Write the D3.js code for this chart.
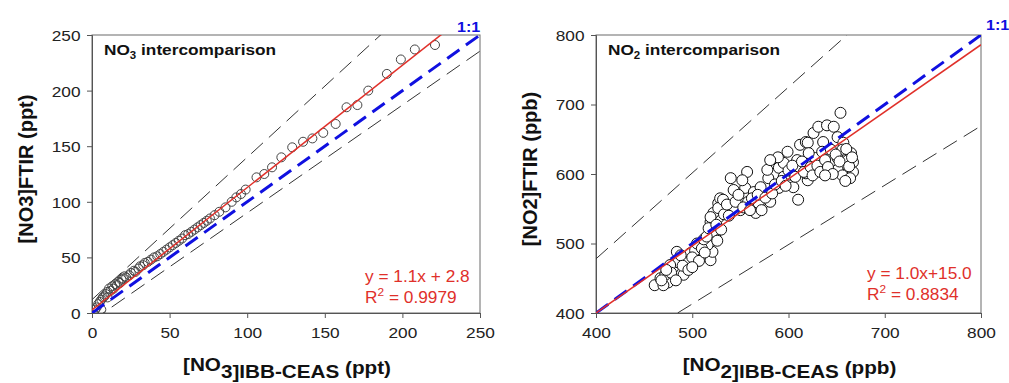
<!DOCTYPE html>
<html>
<head>
<meta charset="utf-8">
<script src="https://cdn.jsdelivr.net/npm/d3@7"></script>
<style>
  body { margin: 0; background: #fff; }
  svg { display: block; font-family: "Liberation Sans", Arial, sans-serif; }
</style>
</head>
<body>
<svg id="chart" width="1009" height="383"></svg>
<script>
// ---- data ----
const no3Ticks = [0, 50, 100, 150, 200, 250];
const no2Ticks = [400, 500, 600, 700, 800];

// NO3: [IBB-CEAS, FTIR] ppt
const no3Points = [
  [2,3],[3,5],[4,8],[5,10],[6,3],[6,12],[7,14],[8,15],[9,17],[10,19],[10,14],[11,22],
  [12,20],[13,24],[14,22],[15,26],[16,25],[17,28],[18,27],[19,30],[20,31],[21,33],
  [22,32],[24,34],[25,36],[27,38],[28,37],[30,40],[31,42],[33,43],[34,45],[36,46],
  [38,48],[40,50],[42,51],[44,53],[46,55],[48,57],[50,59],[52,61],[54,63],[56,65],
  [58,67],[60,70],[62,71],[64,73],[66,75],[68,77],[70,79],[72,81],[74,83],[76,85],
  [79,88],[82,91],[86,95],[90,100],[93,104],[96,107],[99,111],[106,122],[111,125],
  [116,131],[122,140],[129,149],[136,154],[142,157],[149,162],[157,170],[164,185],
  [171,187],[178,200],[190,215],[199,228],[208,237],[221,241]
];
// NO2: [IBB-CEAS, FTIR] ppb
const no2Points = [
  [461,440],[467,450],[475,444],[472,455],[480,465],[491,455],[485,473],[495,473],
  [498,486],[503,490],[519,476],[521,488],[516,498],[524,509],[521,517],[519,531],
  [527,537],[522,544],[531,551],[527,558],[550,548],[566,544],[574,558],[581,560],
  [484,488],[488,483],[477,469],[519,538],[529,565],[527,551],[543,577],[555,580],
  [564,574],[550,558],[569,558],[579,594],[578,606],[590,609],[595,616],[599,632],
  [609,620],[612,642],[618,646],[626,659],[631,668],[640,670],[647,668],[636,646],
  [651,653],[657,645],[656,635],[665,630],[667,617],[657,613],[661,601],[667,603],
  [654,688],[620,591],[618,601],[644,617],[628,623],[635,632],[589,624],[571,581],
  [581,620],[595,596],[602,599],[605,581],[590,580],[557,603],[552,591],[540,594],
  [532,563],[543,548],[558,560],[651,623],[651,606],[644,635],[620,645],[621,630],
  [612,609],[656,598],[662,620],[610,563],
  [470,440],[478,458],[490,468],[500,480],[505,500],[510,493],[507,475],[513,487],
  [512,506],[496,462],[483,447],[473,462],[468,447],[500,466],
  [515,510],[517,522],[525,527],[530,520],[533,542],[536,556],[538,540],[526,504],
  [545,560],[548,570],[553,552],[560,548],[562,565],[568,570],[572,548],[576,566],
  [583,572],[586,585],[593,590],[597,583],[600,605],[604,612],[607,596],[614,618],
  [616,603],[623,610],[625,598],[630,612],[633,603],[638,620],[641,610],[646,600],
  [649,628],[653,618],[660,636],[663,611],[666,624],[664,594],[659,590],[638,598]
];

// lines as [slope, intercept]
const no3Fit = [1.1, 2.8];
const no3Upper = [1.28, 12];
const no3Lower = [0.97, -7];
const no2Fit = [0.965, 14];
const no2Upper = [1.235, -16];
const no2Lower = [0.854, -14];

const SX = 1.15; // the source image is a little wider than tall, text is stretched

const svg = d3.select("#chart");
svg.append("rect").attr("width", 1009).attr("height", 383).attr("fill", "#fff");

// text placed at (x,y) and stretched horizontally
function label(parent, x, y, sx) {
  return parent.append("g")
    .attr("transform", "translate(" + x + "," + y + ") scale(" + sx + ",1)")
    .append("text");
}

function drawPanel(p) {
  const x = d3.scaleLinear().domain(p.domain).range([p.left, p.right]);
  const y = d3.scaleLinear().domain(p.domain).range([p.bottom, p.top]);
  const g = svg.append("g");

  g.append("clipPath").attr("id", p.id + "clip")
    .append("rect")
    .attr("x", p.left).attr("y", p.top)
    .attr("width", p.right - p.left).attr("height", p.bottom - p.top);

  // frame
  g.append("rect")
    .attr("x", p.left).attr("y", p.top)
    .attr("width", p.right - p.left).attr("height", p.bottom - p.top)
    .attr("fill", "none").attr("stroke", "#6a6a6a").attr("stroke-width", 1);

  const xAxis = g.append("g")
    .attr("transform", "translate(0," + p.bottom + ")")
    .call(d3.axisBottom(x).tickValues(p.ticks).tickSize(5).tickPadding(9));
  const yAxis = g.append("g")
    .attr("transform", "translate(" + p.left + ",0)")
    .call(d3.axisLeft(y).tickValues(p.ticks).tickSize(5).tickPadding(5));
  [xAxis, yAxis].forEach(a => {
    a.select(".domain").attr("stroke", "#555");
    a.selectAll(".tick line").attr("stroke", "#555");
    a.selectAll("text").attr("font-size", 15).attr("fill", "#222")
      .attr("font-family", "Liberation Sans, Arial, sans-serif")
      .attr("transform", "scale(" + SX + ",1)");
  });
  yAxis.selectAll(".tick text").attr("dy", "0.36em");

  const plot = g.append("g").attr("clip-path", "url(#" + p.id + "clip)");
  const d0 = p.domain[0], d1 = p.domain[1];
  const lineOf = (c) => [[d0, c[0] * d0 + c[1]], [d1, c[0] * d1 + c[1]]];
  const line = d3.line().x(d => x(d[0])).y(d => y(d[1]));

  [p.upper, p.lower].forEach(c => {
    plot.append("path").datum(lineOf(c))
      .attr("d", line).attr("fill", "none")
      .attr("stroke", "#333").attr("stroke-width", 1)
      .attr("stroke-dasharray", "16,8");
  });

  plot.selectAll("circle.pt").data(p.points).enter()
    .append("circle")
    .attr("class", "pt")
    .attr("cx", d => x(d[0])).attr("cy", d => y(d[1]))
    .attr("r", p.r)
    .attr("fill", p.fill)
    .attr("stroke", p.stroke).attr("stroke-width", 1);

  plot.append("path").datum([[d0, d0], [d1, d1]])
    .attr("d", line).attr("fill", "none")
    .attr("stroke", "#1010e0").attr("stroke-width", 3)
    .attr("stroke-dasharray", "15,8");

  plot.append("path").datum(lineOf(p.fit))
    .attr("d", line).attr("fill", "none")
    .attr("stroke", "#e0302a").attr("stroke-width", 1.5);

  // 1:1 label
  label(g, p.oneX, p.oneY, SX)
    .attr("font-size", 14).attr("font-weight", "bold").attr("fill", "#1010e0")
    .text("1:1");

  // panel title
  const t = label(g, p.left + 12, p.top + 20, SX)
    .attr("font-size", 15).attr("font-weight", "bold").attr("fill", "#111");
  t.append("tspan").text("NO");
  t.append("tspan").attr("font-size", 10).attr("dy", 4).text(p.sub);
  t.append("tspan").attr("dy", -4).text(" intercomparison");

  // equation
  label(g, p.eqX, p.eqY, 1.08).attr("fill", "#e0302a").attr("font-size", 16)
    .text(p.eqText);
  const r2 = label(g, p.eqX, p.eqY + 21, 1.08).attr("fill", "#e0302a").attr("font-size", 16);
  r2.append("tspan").text("R");
  r2.append("tspan").attr("font-size", 11).attr("dy", -7).text("2");
  r2.append("tspan").attr("dy", 7).text(" = " + p.r2);

  // axis titles
  const xl = label(g, (p.left + p.right) / 2 + 1, 374, SX)
    .attr("text-anchor", "middle").attr("font-size", 18).attr("font-weight", "bold")
    .attr("fill", "#111");
  xl.append("tspan").attr("dy", -3).text("[NO");
  xl.append("tspan").attr("dy", 7).text(p.sub + "]IBB-CEAS");
  xl.append("tspan").attr("dy", -4).text(" (" + p.unit + ")");

  g.append("text")
    .attr("transform", "translate(" + (p.left - 59) + ",169) rotate(-90)")
    .attr("text-anchor", "middle").attr("font-size", 20).attr("font-weight", "bold")
    .attr("fill", "#111")
    .text("[NO" + p.sub + "]FTIR (" + p.unit + ")");
}

drawPanel({
  id: "no3", left: 92, right: 480, top: 35, bottom: 313,
  domain: [0, 250], ticks: no3Ticks, points: no3Points,
  fit: no3Fit, upper: no3Upper, lower: no3Lower,
  r: 4.5, fill: "none", stroke: "#444",
  sub: "3", unit: "ppt", oneX: 457, oneY: 32,
  eqX: 365, eqY: 282, eqText: "y = 1.1x + 2.8", r2: "0.9979"
});

drawPanel({
  id: "no2", left: 596, right: 981, top: 35, bottom: 313,
  domain: [400, 800], ticks: no2Ticks, points: no2Points,
  fit: no2Fit, upper: no2Upper, lower: no2Lower,
  r: 5.5, fill: "#fff", stroke: "#111",
  sub: "2", unit: "ppb", oneX: 986, oneY: 30,
  eqX: 867, eqY: 279, eqText: "y = 1.0x+15.0", r2: "0.8834"
});
</script>
</body>
</html>
